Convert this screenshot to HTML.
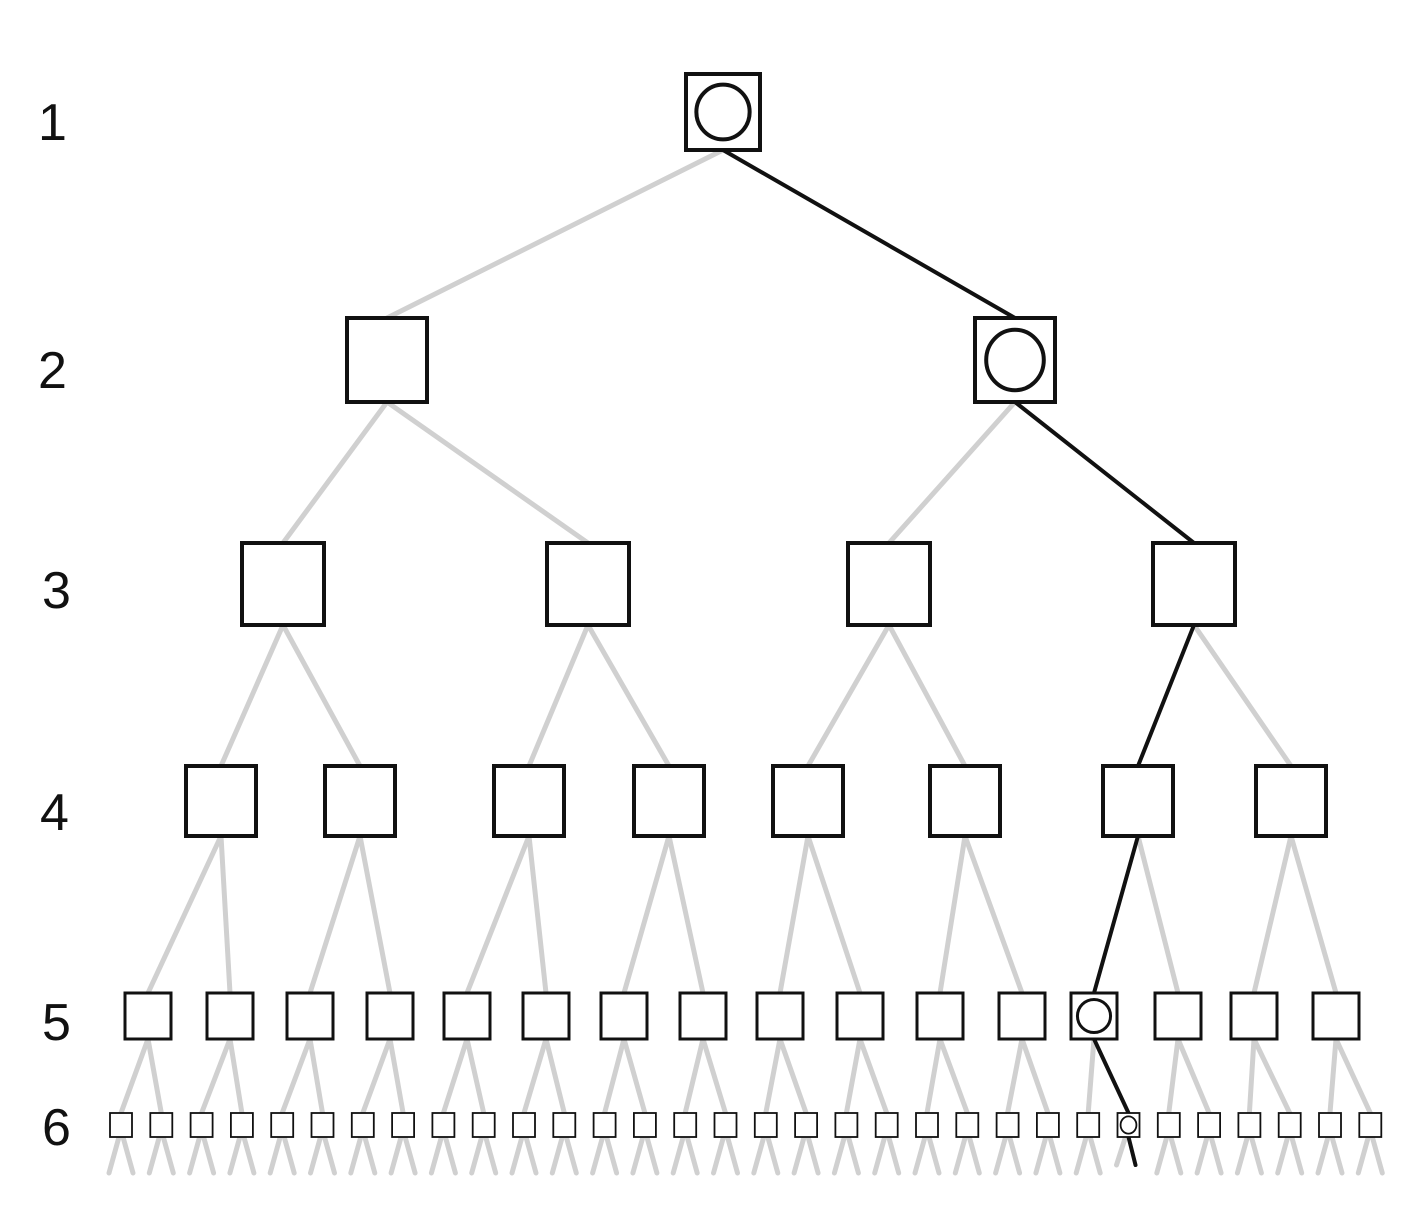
<!DOCTYPE html>
<html><head><meta charset="utf-8"><style>
html,body{margin:0;padding:0;background:#fff;}
svg{display:block;}
text{font-family:"Liberation Sans",sans-serif;font-size:52px;fill:#111;}
</style></head><body>
<svg id="s" width="1404" height="1227" viewBox="0 0 1404 1227" xmlns="http://www.w3.org/2000/svg">
<g id="gray" stroke="#d0d0d0" stroke-width="5" fill="none" stroke-linecap="round"></g>
<g id="blk" stroke="#111" stroke-width="4" fill="none" stroke-linecap="round"></g>
<g id="boxes" stroke="#111" fill="#fff"></g>
<text x="38" y="140">1</text>
<text x="38" y="388">2</text>
<text x="42" y="608">3</text>
<text x="40" y="830">4</text>
<text x="42" y="1040">5</text>
<text x="42" y="1145">6</text>
</svg>
<script>
const NS="http://www.w3.org/2000/svg";
function el(p,t,a){const e=document.createElementNS(NS,t);for(const k in a)e.setAttribute(k,a[k]);document.getElementById(p).appendChild(e);return e;}
const L=[
 {y:74,h:76,w:74,c:[723]},
 {y:318,h:84,w:80,c:[387,1015]},
 {y:543,h:82,w:82,c:[283,588,889,1194]},
 {y:766,h:70,w:70,c:[221,360,529,669,808,965,1138,1291]},
 {y:993,h:46,w:46,c:[148,230,310,390,467,546,624,703,780,860,940,1022,1094,1178,1254,1336]},
 {y:1113,h:24,w:22,c:[]}
];
for(let i=0;i<32;i++)L[5].c.push(121+i*40.3);
const path=[0,1,3,6,12,25];
const circ=[true,true,false,false,true,true];
function line(g,x1,y1,x2,y2){
 el(g,'path',{d:`M${x1} ${y1} L${x2} ${y2}`});
}
for(let l=0;l<5;l++){
 const P=L[l],C=L[l+1];
 P.c.forEach((px,i)=>{
  for(let j=0;j<2;j++){
   const ci=i*2+j, cx=C.c[ci];
   const onPath=path[l]===i&&path[l+1]===ci;
   line(onPath?'blk':'gray',px,P.y+P.h,cx,C.y);
  }
 });
}
L[5].c.forEach((cx,i)=>{
 const y=L[5].y+L[5].h;
 if(i===25){el('blk','path',{d:`M${cx} ${y} L${cx+7} ${y+28}`});el('gray','path',{d:`M${cx-3} ${y} L${cx-12} ${y+28}`});}
 else{el('gray','path',{d:`M${cx-2} ${y} L${cx-12} ${y+36}`});el('gray','path',{d:`M${cx+2} ${y} L${cx+12} ${y+36}`});}
});
L.forEach((lv,l)=>{
 lv.c.forEach((cx,i)=>{
  const sw=l<4?4:(l==4?3:1.8);
  el('boxes','rect',{x:cx-lv.w/2,y:lv.y,width:lv.w,height:lv.h,'stroke-width':sw});
  if(path[l]===i&&circ[l]){
   el('boxes','ellipse',{cx:cx,cy:lv.y+lv.h/2,rx:lv.w*0.36,ry:lv.h*0.36,'stroke-width':sw,fill:'none'});
  }
 });
});
</script>
</body></html>
